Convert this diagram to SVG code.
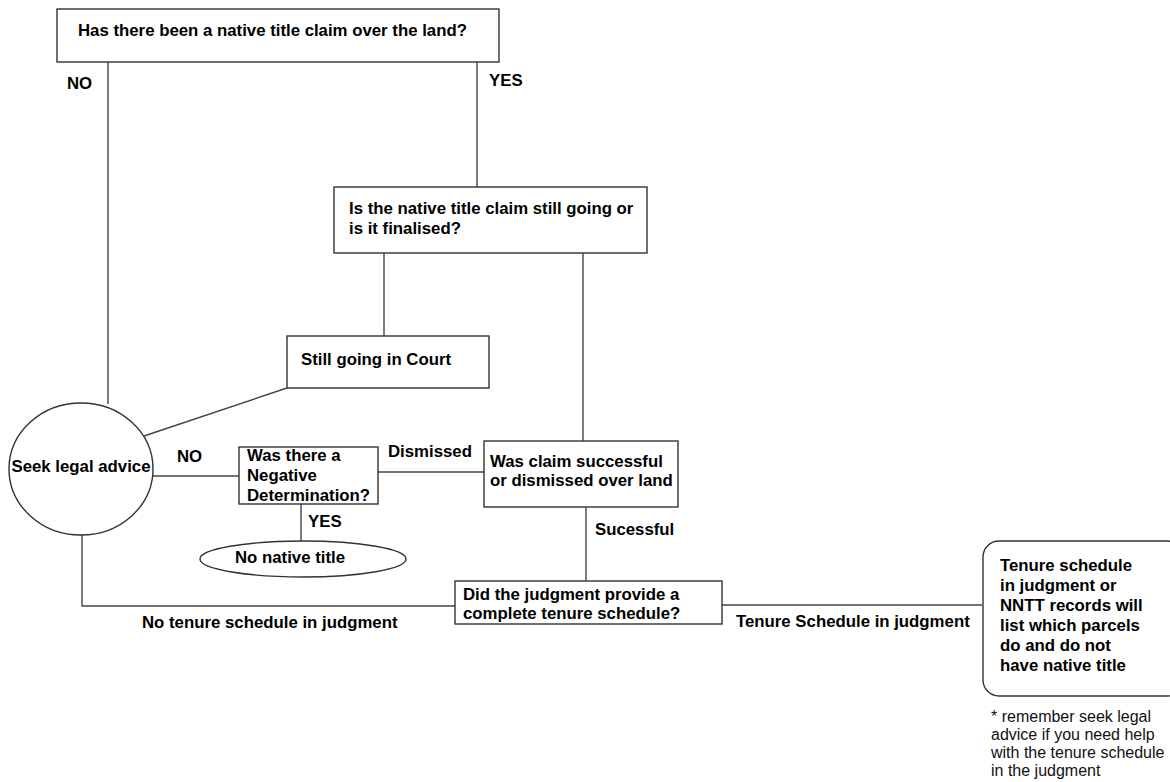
<svg xmlns="http://www.w3.org/2000/svg" width="1170" height="782" viewBox="0 0 1170 782">
<style>
.bx{fill:#fff;stroke:#333;stroke-width:1.4}
.ln{fill:none;stroke:#444;stroke-width:1.4}
.t{font-family:"Liberation Sans",Arial,sans-serif;font-size:16.8px;font-weight:bold;fill:#000}
.n{font-family:"Liberation Sans",Arial,sans-serif;font-size:16px;fill:#111}
</style>
<rect width="1170" height="782" fill="#fff"/>
<g id="connectors">
<line class="ln" x1="108" y1="62" x2="108" y2="404"/>
<line class="ln" x1="477" y1="62" x2="477" y2="187"/>
<line class="ln" x1="384" y1="253" x2="384" y2="336"/>
<line class="ln" x1="583" y1="253" x2="583" y2="441"/>
<line class="ln" x1="287" y1="388" x2="144" y2="436"/>
<line class="ln" x1="153" y1="476" x2="239" y2="476"/>
<line class="ln" x1="378" y1="472" x2="484" y2="472"/>
<line class="ln" x1="301" y1="504" x2="301" y2="541"/>
<line class="ln" x1="586" y1="507" x2="586" y2="581"/>
<polyline class="ln" points="82,535 82,606 455,606"/>
<line class="ln" x1="722" y1="605" x2="982" y2="605"/>
<text class="t" x="67" y="89">NO</text>
<text class="t" x="489" y="86">YES</text>
<text class="t" x="177" y="462">NO</text>
<text class="t" x="388" y="457">Dismissed</text>
<text class="t" x="308" y="527">YES</text>
<text class="t" x="595" y="535">Sucessful</text>
<text class="t" x="142" y="628">No tenure schedule in judgment</text>
<text class="t" x="736" y="627">Tenure Schedule in judgment</text>
</g>
<g id="q-claim">
<rect class="bx" x="57" y="9" width="442" height="53"/>
<text class="t" x="78" y="36">Has there been a native title claim over the land?</text>
</g>
<g id="q-status">
<rect class="bx" x="334" y="187" width="313" height="66"/>
<text class="t" x="349" y="214">Is the native title claim still going or</text>
<text class="t" x="349" y="234">is it finalised?</text>
</g>
<g id="still-going">
<rect class="bx" x="287" y="336" width="202" height="52"/>
<text class="t" x="301" y="365">Still going in Court</text>
</g>
<g id="seek-advice">
<ellipse class="bx" cx="81" cy="469" rx="72" ry="66"/>
<text class="t" x="81" y="472" text-anchor="middle">Seek legal advice</text>
</g>
<g id="q-negative">
<rect class="bx" x="239" y="447" width="139" height="57"/>
<text class="t" x="247" y="461">Was there a</text>
<text class="t" x="247" y="481">Negative</text>
<text class="t" x="247" y="501">Determination?</text>
</g>
<g id="no-native-title">
<ellipse class="bx" cx="303" cy="559" rx="103" ry="18"/>
<text class="t" x="235" y="563">No native title</text>
</g>
<g id="q-success">
<rect class="bx" x="484" y="441" width="194" height="66"/>
<text class="t" x="490" y="467">Was claim successful</text>
<text class="t" x="490" y="486">or dismissed over land</text>
</g>
<g id="q-schedule">
<rect class="bx" x="455" y="581" width="267" height="43"/>
<text class="t" x="463" y="600">Did the judgment provide a</text>
<text class="t" x="463" y="619">complete tenure schedule?</text>
</g>
<g id="result">
<rect class="bx" x="983" y="541" width="200" height="155" rx="16" ry="16"/>
<text class="t" x="1000" y="571">Tenure schedule</text>
<text class="t" x="1000" y="591">in judgment or</text>
<text class="t" x="1000" y="611">NNTT records will</text>
<text class="t" x="1000" y="631">list which parcels</text>
<text class="t" x="1000" y="651">do and do not</text>
<text class="t" x="1000" y="671">have native title</text>
</g>
<g id="note">
<text class="n" x="991" y="722">* remember seek legal</text>
<text class="n" x="991" y="740">advice if you need help</text>
<text class="n" x="991" y="758">with the tenure schedule</text>
<text class="n" x="991" y="776">in the judgment</text>
</g>
</svg>
